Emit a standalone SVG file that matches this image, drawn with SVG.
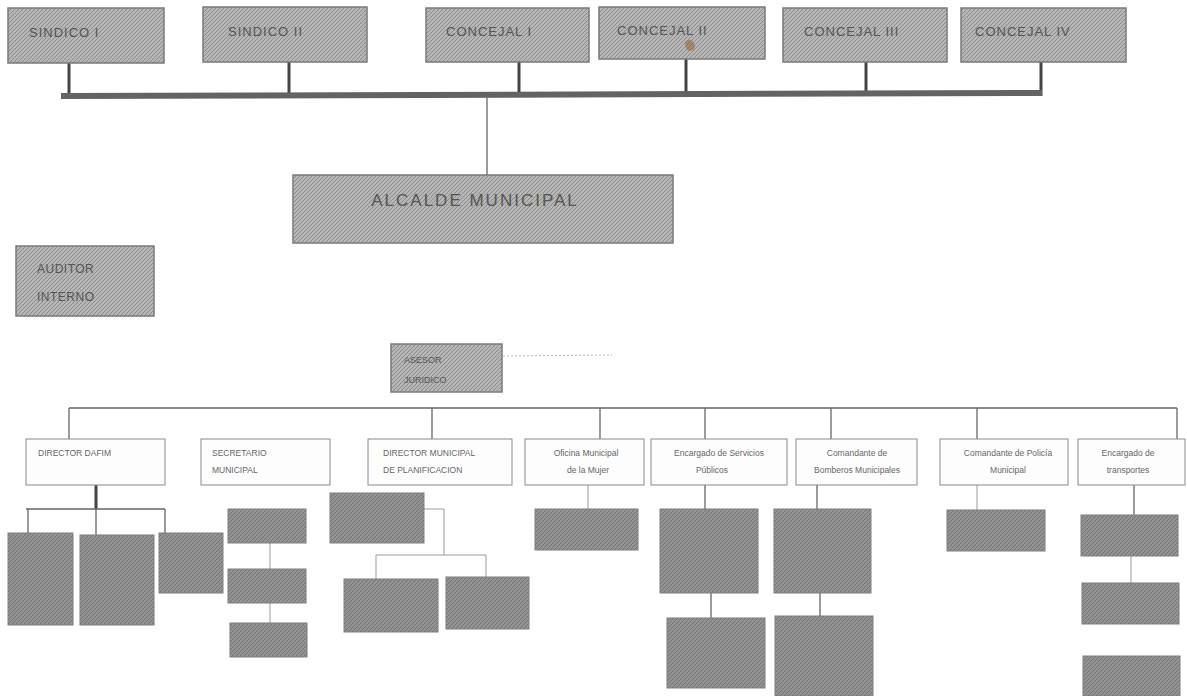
<svg xmlns="http://www.w3.org/2000/svg" width="1187" height="696" viewBox="0 0 1187 696">
<defs>
<pattern id="hatchL" width="4" height="4" patternUnits="userSpaceOnUse">
<rect width="4" height="4" fill="#b6b6b6"/>
<path d="M-1,1 l2,-2 M0,4 l4,-4 M3,5 l2,-2" stroke="#8c8c8c" stroke-width="1"/>
</pattern>
<pattern id="hatchD" width="4" height="4" patternUnits="userSpaceOnUse">
<rect width="4" height="4" fill="#939393"/>
<path d="M-1,1 l2,-2 M0,4 l4,-4 M3,5 l2,-2" stroke="#737373" stroke-width="1"/>
</pattern>
<style>
.top{fill:url(#hatchL);stroke:#7a7a7a;stroke-width:1.5}
.dark{fill:url(#hatchD);stroke:#7f7f7f;stroke-width:1}
.white{fill:#fdfdfd;stroke:#8a8a8a;stroke-width:1}
.tt{font-family:"Liberation Sans",Arial,sans-serif;font-size:13px;fill:#555;letter-spacing:1px}
.big{font-family:"Liberation Sans",Arial,sans-serif;font-size:17px;fill:#555;letter-spacing:2px}
.mid{font-family:"Liberation Sans",Arial,sans-serif;font-size:12px;fill:#555;letter-spacing:0.5px}
.sm{font-family:"Liberation Sans",Arial,sans-serif;font-size:9px;fill:#555}
.wt{font-family:"Liberation Sans",Arial,sans-serif;font-size:8.5px;fill:#666}
.wc{font-family:"Liberation Sans",Arial,sans-serif;font-size:8.5px;fill:#666;text-anchor:middle}
.stub{stroke:#444;stroke-width:3;fill:none}
.thin{stroke:#666;stroke-width:1.3;fill:none}
.lt{stroke:#9a9a9a;stroke-width:1;fill:none}
</style>
</defs>
<rect width="1187" height="696" fill="#ffffff"/>

<g id="connectors">
<line class="stub" x1="69" y1="63" x2="69" y2="95"/>
<line class="stub" x1="289" y1="62" x2="289" y2="94"/>
<line class="stub" x1="519" y1="62" x2="519" y2="94"/>
<line class="stub" x1="686" y1="59" x2="686" y2="93"/>
<line class="stub" x1="866" y1="62" x2="866" y2="92"/>
<path class="stub" d="M1041,62 V96"/>
<polygon points="61,93 1042,90 1042,96 61,99" fill="#636363"/>
<line class="thin" x1="487" y1="98" x2="487" y2="175"/>
<line x1="503" y1="356" x2="612" y2="355" stroke="#b5b5b5" stroke-width="1" stroke-dasharray="2,2"/>
<line class="thin" x1="69" y1="408" x2="1177" y2="408"/>
<line class="thin" x1="69" y1="408" x2="69" y2="439"/>
<line class="thin" x1="432" y1="408" x2="432" y2="439"/>
<line class="thin" x1="600" y1="408" x2="600" y2="439"/>
<line class="thin" x1="705" y1="408" x2="705" y2="439"/>
<line class="thin" x1="831" y1="408" x2="831" y2="439"/>
<line class="thin" x1="977" y1="408" x2="977" y2="439"/>
<line class="thin" x1="1177" y1="408" x2="1177" y2="440"/>
<line class="stub" x1="96" y1="485" x2="96" y2="509"/>
<path class="thin" d="M26,509 H165 M28,509 V533 M96,509 V535 M165,509 V533"/>
<path class="lt" d="M270,543 V569 M270,603 V623"/>
<path class="lt" d="M424,509 H444 V555 M376,555 H486 M376,555 V579 M486,555 V577"/>
<path class="lt" d="M588,483 V509"/>
<path class="thin" d="M705,483 V509 M711,593 V618"/>
<path class="thin" d="M817,483 V509 M820,593 V616"/>
<path class="lt" d="M977,483 V510"/>
<path class="thin" d="M1134,483 V515"/>
<path class="lt" d="M1131,556 V583"/>
</g>

<g id="sindico1"><rect class="top" x="8" y="8" width="156" height="55"/><text class="tt" x="29" y="37">SINDICO I</text></g>
<g id="sindico2"><rect class="top" x="203" y="7" width="164" height="55"/><text class="tt" x="228" y="36">SINDICO II</text></g>
<g id="concejal1"><rect class="top" x="426" y="8" width="163" height="54"/><text class="tt" x="446" y="36">CONCEJAL I</text></g>
<g id="concejal2"><rect class="top" x="599" y="7" width="166" height="52"/><text class="tt" x="617" y="35">CONCEJAL II</text>
<path d="M685,42 q5,-5 9,1 q3,5 -3,8 q-6,1 -6,-9z" fill="#9a6a3a" opacity="0.6"/></g>
<g id="concejal3"><rect class="top" x="783" y="8" width="164" height="54"/><text class="tt" x="804" y="36">CONCEJAL III</text></g>
<g id="concejal4"><rect class="top" x="961" y="8" width="165" height="54"/><text class="tt" x="975" y="36">CONCEJAL IV</text></g>

<g id="alcalde"><rect class="top" x="293" y="175" width="380" height="68"/><text class="big" x="475" y="206" text-anchor="middle">ALCALDE MUNICIPAL</text></g>
<g id="auditor"><rect class="top" x="16" y="246" width="138" height="70"/><text class="mid" x="37" y="273">AUDITOR</text><text class="mid" x="37" y="301">INTERNO</text></g>
<g id="asesor"><rect class="top" x="391" y="344" width="111" height="48"/><text class="sm" x="404" y="363">ASESOR</text><text class="sm" x="404" y="383">JURIDICO</text></g>

<g id="dafim"><rect class="white" x="26" y="439" width="139" height="46"/><text class="wt" x="38" y="456">DIRECTOR DAFIM</text></g>
<g id="secretario"><rect class="white" x="201" y="439" width="129" height="46"/><text class="wt" x="212" y="456">SECRETARIO</text><text class="wt" x="212" y="473">MUNICIPAL</text></g>
<g id="planificacion"><rect class="white" x="368" y="439" width="144" height="46"/><text class="wt" x="383" y="456">DIRECTOR MUNICIPAL</text><text class="wt" x="383" y="473">DE PLANIFICACION</text></g>
<g id="mujer"><rect class="white" x="525" y="439" width="119" height="46"/><text class="wc" x="586" y="456">Oficina Municipal</text><text class="wc" x="588" y="473">de la Mujer</text></g>
<g id="servicios"><rect class="white" x="651" y="439" width="136" height="46"/><text class="wc" x="719" y="456">Encargado de Servicios</text><text class="wc" x="712" y="473">Públicos</text></g>
<g id="bomberos"><rect class="white" x="796" y="439" width="121" height="46"/><text class="wc" x="857" y="456">Comandante de</text><text class="wc" x="857" y="473">Bomberos Municipales</text></g>
<g id="policia"><rect class="white" x="940" y="439" width="128" height="46"/><text class="wc" x="1008" y="456">Comandante de Policía</text><text class="wc" x="1008" y="473">Municipal</text></g>
<g id="transportes"><rect class="white" x="1078" y="439" width="107" height="46"/><text class="wc" x="1128" y="456">Encargado de</text><text class="wc" x="1128" y="473">transportes</text></g>

<g id="dafim-sub1"><rect class="dark" x="8" y="533" width="65" height="92"/></g>
<g id="dafim-sub2"><rect class="dark" x="80" y="535" width="74" height="90"/></g>
<g id="dafim-sub3"><rect class="dark" x="159" y="533" width="64" height="60"/></g>
<g id="sec-sub1"><rect class="dark" x="228" y="509" width="78" height="34"/></g>
<g id="sec-sub2"><rect class="dark" x="228" y="569" width="78" height="34"/></g>
<g id="sec-sub3"><rect class="dark" x="230" y="623" width="77" height="34"/></g>
<g id="plan-sub1"><rect class="dark" x="330" y="493" width="94" height="50"/></g>
<g id="plan-sub2"><rect class="dark" x="344" y="579" width="94" height="53"/></g>
<g id="plan-sub3"><rect class="dark" x="446" y="577" width="83" height="52"/></g>
<g id="mujer-sub1"><rect class="dark" x="535" y="509" width="103" height="41"/></g>
<g id="serv-sub1"><rect class="dark" x="660" y="509" width="98" height="84"/></g>
<g id="serv-sub2"><rect class="dark" x="667" y="618" width="98" height="70"/></g>
<g id="bomb-sub1"><rect class="dark" x="774" y="509" width="97" height="84"/></g>
<g id="bomb-sub2"><rect class="dark" x="775" y="616" width="98" height="80"/></g>
<g id="pol-sub1"><rect class="dark" x="947" y="510" width="98" height="41"/></g>
<g id="trans-sub1"><rect class="dark" x="1081" y="515" width="97" height="41"/></g>
<g id="trans-sub2"><rect class="dark" x="1082" y="583" width="97" height="41"/></g>
<g id="trans-sub3"><rect class="dark" x="1083" y="656" width="97" height="40"/></g>
</svg>
